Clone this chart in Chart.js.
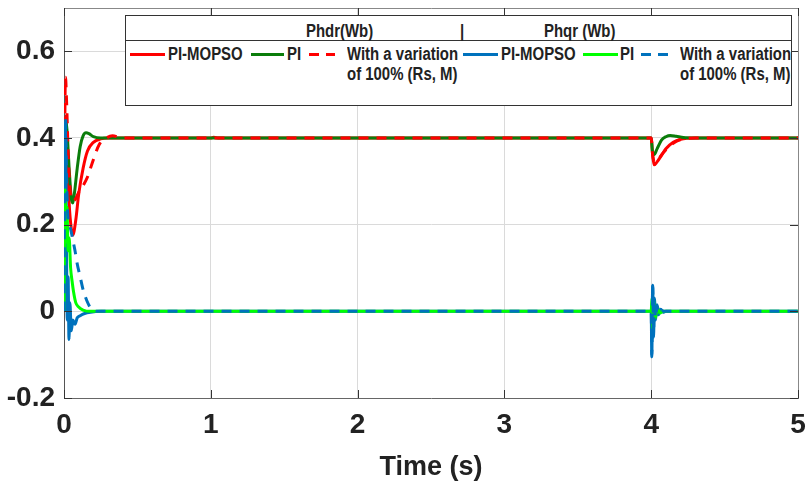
<!DOCTYPE html>
<html>
<head>
<meta charset="utf-8">
<script src="https://cdn.jsdelivr.net/npm/chart.js@4.4.1/dist/chart.umd.min.js"></script>
<style>
  body { margin: 0; background: #fff; }
  #wrap { position: relative; width: 810px; height: 483px; }
  #legendBox {
    position: absolute; left: 125px; top: 15px; width: 667px; height: 91px;
    border: 1px solid #333; background: #fff; box-sizing: border-box;
    font-family: 'Liberation Sans', Arial, sans-serif; font-weight: bold; font-size: 18px; color: #222;
  }
  #legendBox .sep { position: absolute; left: 0; right: 0; top: 24px; border-top: 1px solid #333; }
  #legendBox .t { position: absolute; white-space: nowrap; line-height: 18px; transform: scaleX(0.83); transform-origin: 0 50%; }
  #legendBox .ln { position: absolute; height: 3px; }
</style>
</head>
<body>
<div id="wrap">
  <canvas id="fluxChart" width="810" height="483"></canvas>
  <div id="legendBox"></div>
</div>
<script>
  // time axis / value axis ticks
  const xTicks = [0, 1, 2, 3, 4, 5];
  const yTicks = [-0.2, 0, 0.2, 0.4, 0.6];

  // Phdr - PI-MOPSO
  const phdrMopsoT = [0, 0.005, 0.012, 0.02, 0.035, 0.05, 0.06, 0.08, 0.1, 0.13, 0.16, 0.2, 0.25, 0.3, 1.0, 1.02, 1.05, 4.0, 4.01, 4.02, 4.04, 4.07, 4.1, 4.15, 4.2, 4.3, 5];
  const phdrMopsoY = [0, 0.3, 0.45, 0.38, 0.25, 0.19, 0.176, 0.21, 0.27, 0.33, 0.37, 0.39, 0.398, 0.4, 0.4, 0.402, 0.4, 0.4, 0.36, 0.338, 0.345, 0.36, 0.375, 0.39, 0.397, 0.4, 0.4];
  // Phdr - PI
  const phdrPiT = [0, 0.005, 0.012, 0.02, 0.035, 0.05, 0.06, 0.07, 0.09, 0.11, 0.13, 0.15, 0.17, 0.2, 0.25, 0.3, 1.0, 4.0, 4.008, 4.02, 4.04, 4.07, 4.1, 4.13, 4.17, 4.22, 4.3, 5];
  const phdrPiY = [0, 0.3, 0.44, 0.42, 0.33, 0.26, 0.25, 0.27, 0.33, 0.38, 0.405, 0.412, 0.41, 0.403, 0.4, 0.4, 0.4, 0.4, 0.37, 0.362, 0.375, 0.395, 0.403, 0.406, 0.404, 0.401, 0.4, 0.4];
  // Phdr - with a variation of 100% (Rs, M)
  const phdrVarT = [0, 0.004, 0.01, 0.018, 0.03, 0.045, 0.06, 0.08, 0.1, 0.13, 0.16, 0.2, 0.24, 0.28, 0.33, 0.4, 4.0, 4.01, 4.025, 4.05, 4.08, 4.12, 4.17, 4.22, 4.3, 5];
  const phdrVarY = [0, 0.35, 0.54, 0.48, 0.35, 0.27, 0.255, 0.26, 0.275, 0.29, 0.31, 0.35, 0.385, 0.398, 0.405, 0.4, 0.4, 0.36, 0.345, 0.352, 0.365, 0.38, 0.392, 0.398, 0.4, 0.4];

  // Phqr - PI-MOPSO
  const phqrMopsoT = [0, 0.004, 0.01, 0.016, 0.022, 0.028, 0.034, 0.04, 0.05, 0.06, 0.075, 0.09, 0.11, 0.14, 0.18, 0.25, 4.0, 4.004, 4.01, 4.016, 4.022, 4.03, 4.04, 4.05, 4.065, 4.08, 4.1, 4.15, 5];
  const phqrMopsoY = [0, 0.25, 0.42, 0.2, -0.02, 0.08, -0.065, 0.02, -0.045, -0.02, -0.03, -0.015, -0.01, -0.005, -0.002, 0, 0, -0.105, 0.06, -0.06, 0.03, -0.02, 0.015, -0.008, 0.005, -0.002, 0, 0, 0];
  // Phqr - PI
  const phqrPiT = [0, 0.004, 0.008, 0.014, 0.02, 0.028, 0.035, 0.045, 0.055, 0.065, 0.08, 0.1, 0.13, 0.18, 4.0, 4.005, 4.012, 4.02, 4.03, 4.04, 4.06, 4.08, 5];
  const phqrPiY = [0, 0.22, 0.28, 0.16, 0.24, 0.14, 0.17, 0.1, 0.07, 0.045, 0.02, 0.01, 0.003, 0, 0, 0.03, -0.04, 0.025, -0.015, 0.01, -0.004, 0, 0];
  // Phqr - with a variation of 100% (Rs, M)
  const phqrVarT = [0, 0.004, 0.01, 0.018, 0.026, 0.035, 0.045, 0.06, 0.075, 0.09, 0.11, 0.13, 0.155, 0.19, 0.23, 4.0, 4.004, 4.01, 4.016, 4.022, 4.03, 4.04, 4.055, 4.07, 4.09, 5];
  const phqrVarY = [0, 0.3, 0.45, 0.3, 0.22, 0.2, 0.19, 0.165, 0.14, 0.11, 0.08, 0.05, 0.025, 0.004, 0, 0, -0.1, 0.058, -0.05, 0.03, -0.015, 0.012, -0.005, 0.002, 0, 0];

  const RED = '#ff0000', GREEN = '#0b7d0b', BLUE = '#0072bd', LIME = '#00ff00';
  const fontFam = "'Liberation Sans', Arial, sans-serif";

  function pts(t, y) {
    return t.map((v, i) => ({ x: v, y: y[i] }));
  }

  function series(label, t, y, color, dashed, order) {
    return {
      label: label,
      data: pts(t, y),
      borderColor: color,
      borderWidth: 3,
      borderDash: dashed ? [10, 8] : [],
      pointRadius: 0,
      cubicInterpolationMode: 'monotone',
      fill: false,
      order: order
    };
  }

  // inward ticks + top/right frame
  const framePlugin = {
    id: 'frame',
    afterDatasetsDraw(chart) {
      const { ctx, chartArea: a, scales } = chart;
      ctx.save();
      ctx.strokeStyle = '#888';
      ctx.lineWidth = 1;
      ctx.beginPath();
      ctx.moveTo(a.left, a.top + 0.5); ctx.lineTo(a.right + 0.5, a.top + 0.5);
      ctx.lineTo(a.right + 0.5, a.bottom);
      ctx.stroke();
      ctx.strokeStyle = '#333';
      ctx.beginPath();
      yTicks.forEach(v => {
        const py = Math.round(scales.y.getPixelForValue(v)) + 0.5;
        ctx.moveTo(a.left, py); ctx.lineTo(a.left + 8, py);
        ctx.moveTo(a.right, py); ctx.lineTo(a.right - 8, py);
      });
      xTicks.forEach(v => {
        const px = Math.round(scales.x.getPixelForValue(v)) + 0.5;
        ctx.moveTo(px, a.bottom); ctx.lineTo(px, a.bottom - 8);
        ctx.moveTo(px, a.top); ctx.lineTo(px, a.top + 8);
      });
      ctx.stroke();
      ctx.restore();
    }
  };

  const ctx = document.getElementById('fluxChart').getContext('2d');
  const fluxChart = new Chart(ctx, {
    type: 'line',
    data: {
      datasets: [
        series('Phdr PI-MOPSO', phdrMopsoT, phdrMopsoY, RED, false, 6),
        series('Phdr PI', phdrPiT, phdrPiY, GREEN, false, 5),
        series('Phdr variation', phdrVarT, phdrVarY, RED, true, 4),
        series('Phqr PI-MOPSO', phqrMopsoT, phqrMopsoY, BLUE, false, 3),
        series('Phqr PI', phqrPiT, phqrPiY, LIME, false, 2),
        series('Phqr variation', phqrVarT, phqrVarY, BLUE, true, 1)
      ]
    },
    options: {
      responsive: false,
      animation: false,
      layout: { padding: { left: 0, right: 12, top: 8, bottom: 0 } },
      plugins: { legend: { display: false }, tooltip: { enabled: false } },
      scales: {
        x: {
          type: 'linear', min: 0, max: 5,
          afterBuildTicks: s => { s.ticks = xTicks.map(v => ({ value: v })); },
          afterFit: s => { s.height = 85; s.paddingLeft = 0; s.paddingRight = 0; },
          grid: { color: '#dadada', drawTicks: false },
          border: { color: '#666', width: 1 },
          ticks: { color: '#222', padding: 10, font: { family: fontFam, size: 28, weight: 'bold' } },
          title: {
            display: true, text: 'Time (s)', color: '#222',
            padding: { top: 0, bottom: 2 },
            font: { family: fontFam, size: 27, weight: 'bold', lineHeight: 1 }
          }
        },
        y: {
          min: -0.2, max: 0.7,
          afterBuildTicks: s => { s.ticks = yTicks.map(v => ({ value: v })); },
          afterFit: s => { s.width = 64; s.paddingTop = 0; s.paddingBottom = 0; },
          grid: { color: '#dadada', drawTicks: false },
          border: { color: '#555', width: 1 },
          ticks: {
            color: '#222', padding: 9,
            font: { family: fontFam, size: 28, weight: 'bold' },
            callback: v => (v === 0 ? '0' : v.toFixed(1))
          }
        }
      }
    },
    plugins: [framePlugin]
  });

  // custom legend box (positions relative to box at 125,15)
  const legendBox = document.getElementById('legendBox');
  const legendItems = [
    { type: 'sep' },
    { type: 't', text: 'Phdr(Wb)', x: 180, y: 15 },
    { type: 't', text: '|', x: 334, y: 15 },
    { type: 't', text: 'Phqr (Wb)', x: 418, y: 15 },
    { type: 'ln', x: 4, w: 35, color: RED },
    { type: 't', text: 'PI-MOPSO', x: 42, y: 38 },
    { type: 'ln', x: 125, w: 33, color: GREEN },
    { type: 't', text: 'PI', x: 161, y: 38 },
    { type: 'dash', x: 183, w: 26, color: RED },
    { type: 't', text: 'With a variation', x: 221, y: 38 },
    { type: 't', text: 'of 100% (Rs, M)', x: 221, y: 58 },
    { type: 'ln', x: 337, w: 35, color: BLUE },
    { type: 't', text: 'PI-MOPSO', x: 375, y: 38 },
    { type: 'ln', x: 457, w: 35, color: LIME },
    { type: 't', text: 'PI', x: 494, y: 38 },
    { type: 'dash', x: 515, w: 29, color: BLUE },
    { type: 't', text: 'With a variation', x: 554, y: 38 },
    { type: 't', text: 'of 100% (Rs, M)', x: 554, y: 58 }
  ];
  legendItems.forEach(it => {
    const el = document.createElement('div');
    if (it.type === 'sep') {
      el.className = 'sep';
    } else if (it.type === 't') {
      el.className = 't';
      el.textContent = it.text;
      el.style.left = it.x + 'px';
      el.style.top = (it.y - 9) + 'px';
    } else {
      el.className = 'ln';
      el.style.left = it.x + 'px';
      el.style.top = (38 - 1.5) + 'px';
      el.style.width = it.w + 'px';
      if (it.type === 'dash') {
        el.style.background = 'repeating-linear-gradient(90deg,' + it.color + ' 0 10px, transparent 10px 17px)';
      } else {
        el.style.background = it.color;
      }
    }
    legendBox.appendChild(el);
  });
</script>
</body>
</html>
